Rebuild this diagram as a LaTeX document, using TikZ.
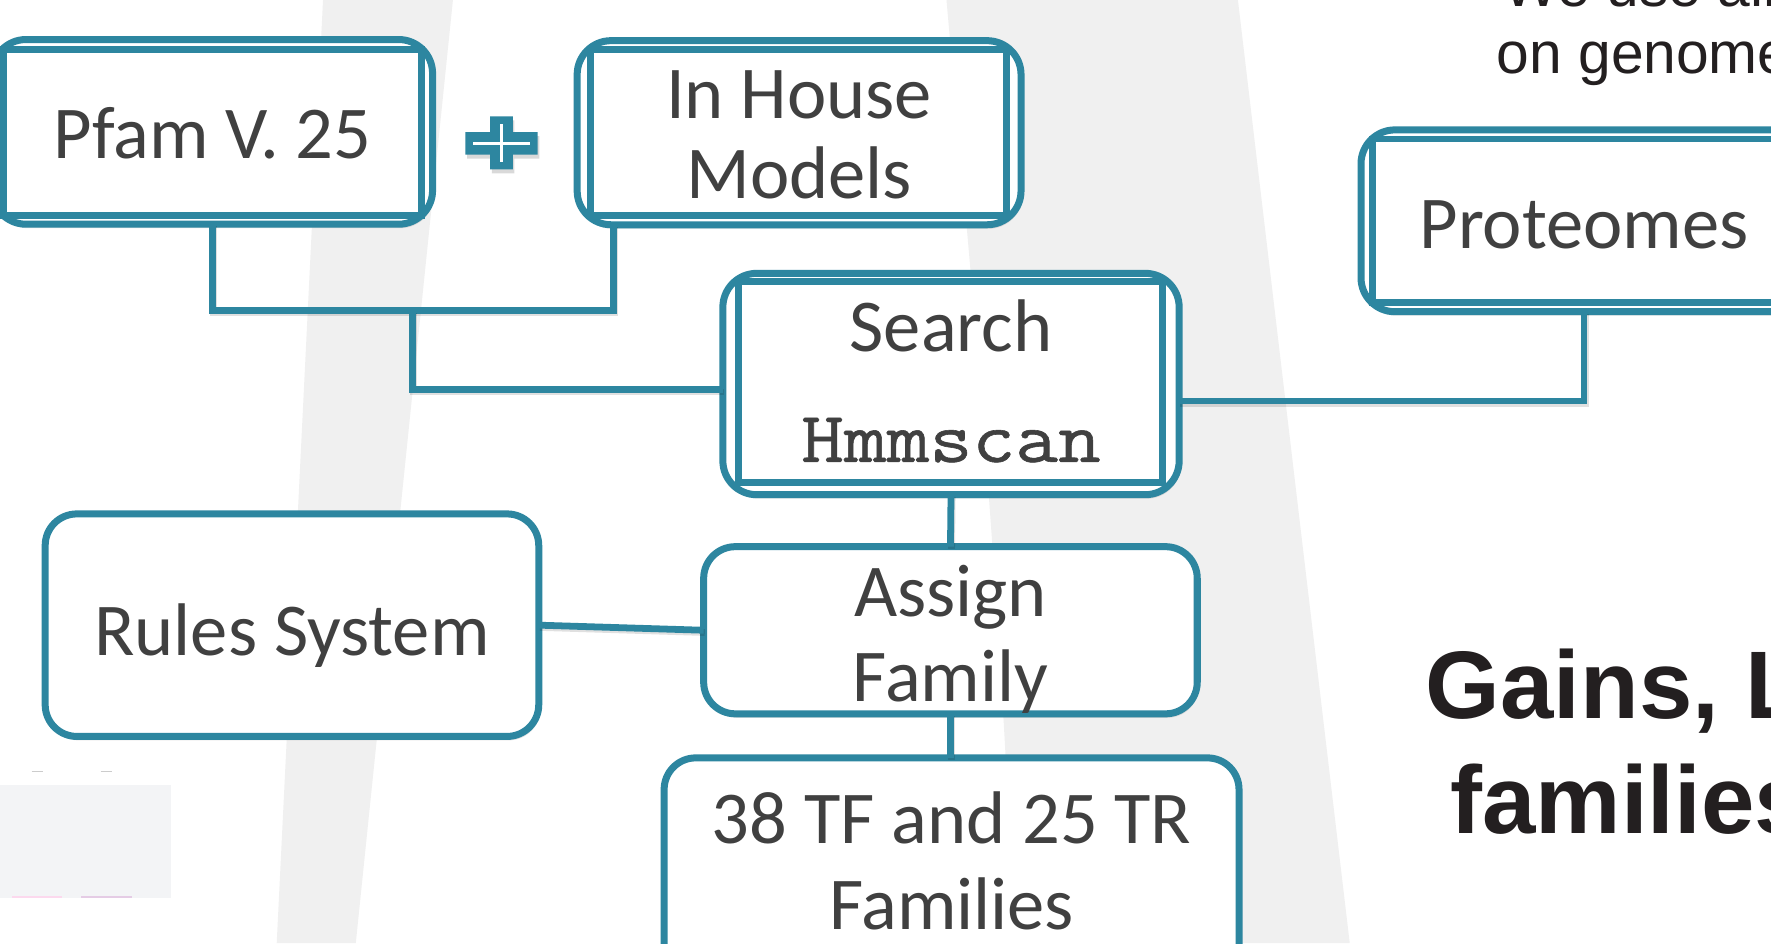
\documentclass[tikz,border=0pt]{standalone}
\usepackage{fontspec}
\setmainfont{Carlito}
\newfontfamily\courfont{Latin Modern Mono}[FakeStretch=1.15, FakeBold=0.8]
\newfontfamily\arialfont{Liberation Sans}
\usetikzlibrary{calc,shadows}
\definecolor{teal1}{RGB}{45,134,160}
\definecolor{txtgray}{RGB}{64,64,64}
\definecolor{band}{RGB}{240,240,240}
\definecolor{blk}{RGB}{35,31,32}
\definecolor{patch}{RGB}{243,244,246}
\begin{document}
\begin{tikzpicture}[x=1pt,y=-1pt,
  boxfont/.style={font=\fontsize{66}{72}\selectfont, text=txtgray},
  sh/.style={drop shadow={shadow xshift=1.5pt, shadow yshift=-3.5pt, opacity=0.22}},
  outerbox/.style={draw=teal1, line width=6.2pt, rounded corners=30pt, fill=white, outer sep=0pt, inner sep=0pt, boxfont, sh},
  plainbox/.style={draw=teal1, line width=6.2pt, rounded corners=28pt, fill=white, outer sep=0pt, inner sep=0pt, boxfont, sh},
  innerbox/.style={draw=teal1, line width=6pt},
  conn/.style={draw=teal1, line width=6pt,
    preaction={draw=black, opacity=0.12, line width=6pt, transform canvas={shift={(1pt,-2pt)}}}},
  righttext/.style={anchor=base west, inner sep=0pt, text=blk, font=\arialfont\fontsize{52}{59}\selectfont},
  bigtext/.style={anchor=base west, inner sep=0pt, text=blk, font=\arialfont\bfseries\fontsize{85}{102}\selectfont},
]
\useasboundingbox (0,0) rectangle (1568,835);
\clip (0,0) rectangle (1568,835);
\fill[white] (0,0) rectangle (1568,835);
% background bands
\fill[band] (286,0) -- (401,0) -- (315,835) -- (245,835) -- cycle;
\fill[band] (838,0) .. controls (860,250) and (885,500) .. (898,835) -- (1195,835) -- (1096,0) -- cycle;
% bottom-left patch
\fill[patch] (0,695) rectangle (151,795);
\draw[black!20, line width=1.5pt] (28,683) -- (38,683) (89,683) -- (99,683);
\draw[magenta!15, line width=2pt] (11,794) -- (55,794);
\draw[violet!20, line width=2pt] (72,794) -- (117,794);

% right texts
\node[righttext] (we) at (1331,6) {We use all};
\node[righttext] (ong) at (1325,65) {on genome};
\node[bigtext] (gains) at (1262,636) {Gains, Losses};
\node[bigtext] (fams) at (1284,738) {families};

\coordinate (jn) at (365,275);

% boxes
\node[outerbox, minimum width=390pt, minimum height=163.5pt, text height=46.5pt, text depth=0pt] (pfam) at (188,116.75) {Pfam V. 25};
\draw[innerbox] ($(pfam.north west)+(10,9)$) rectangle ($(pfam.south east)+(-9.5,-7.5)$);

\node[outerbox, minimum width=393pt, minimum height=163pt, text height=117pt, text depth=0pt] (inhouse) at (707.5,117.5)
  {\parbox[b]{380pt}{\centering\fontsize{66}{71}\selectfont In House\\Models}};
\draw[innerbox] ($(inhouse.north west)+(12,8)$) rectangle ($(inhouse.south east)+(-13,-8)$);

\node[outerbox, minimum width=404pt, minimum height=196pt, text height=138pt, text depth=0pt] (search) at (842,340)
  {\parbox[b]{390pt}{\centering\fontsize{66}{98}\selectfont Search\\{\courfont\fontsize{64}{98}\selectfont Hmmscan}}};
\draw[innerbox] ($(search.north west)+(14,7)$) rectangle ($(search.south east)+(-15,-11)$);

\node[outerbox, minimum width=395pt, minimum height=161pt, text height=49pt, text depth=0pt] (prot) at (1402.5,195.5) {Proteomes};
\draw[innerbox] ($(prot.north west)+(10,8)$) rectangle ($(prot.south east)+(-10,-8)$);

\node[plainbox, minimum width=437pt, minimum height=197pt, text height=53pt, text depth=0pt] (rules) at (258.5,553.5) {Rules System};

\node[plainbox, minimum width=437pt, minimum height=148pt, text height=126pt, text depth=0pt] (assign) at (841.5,558)
  {\parbox[b]{420pt}{\centering\fontsize{66}{75}\selectfont Assign\\Family}};

\node[plainbox, minimum width=509pt, minimum height=209pt, text height=95pt, text depth=0pt] (tf) at (842.5,775.5)
  {\parbox[b]{490pt}{\centering\fontsize{66}{76}\selectfont 38 TF and 25 TR\\Families}};

% plus sign
\fill[black, opacity=0.15] (435.5,106.5) -- (455.5,106.5) -- (455.5,120.5) -- (477.5,120.5) -- (477.5,140.5) -- (455.5,140.5) -- (455.5,153.5) -- (435.5,153.5)
  -- (435.5,140.5) -- (413.5,140.5) -- (413.5,120.5) -- (435.5,120.5) -- cycle;
\fill[teal1] (434,103) -- (454,103) -- (454,117) -- (476,117) -- (476,137) -- (454,137) -- (454,150) -- (434,150)
  -- (434,137) -- (412,137) -- (412,117) -- (434,117) -- cycle;
\draw[white, line width=3pt] (419,127) -- (469,127) (444,110) -- (444,143);

% connectors
\coordinate (ihb) at ($(inhouse.south west)+(32,0)$);
\draw[conn] (pfam.south) |- (jn) -| (ihb);
\draw[conn] (jn) |- ($(search.west)+(0,5)$);
\draw[conn] (prot.south) |- ($(search.east)+(0,15)$);
\draw[conn] (search.south) -- (assign.north);
\draw[conn] (rules.east) -- (assign.west);
\draw[conn] (assign.south) -- (assign.south |- tf.north);
\end{tikzpicture}
\end{document}
